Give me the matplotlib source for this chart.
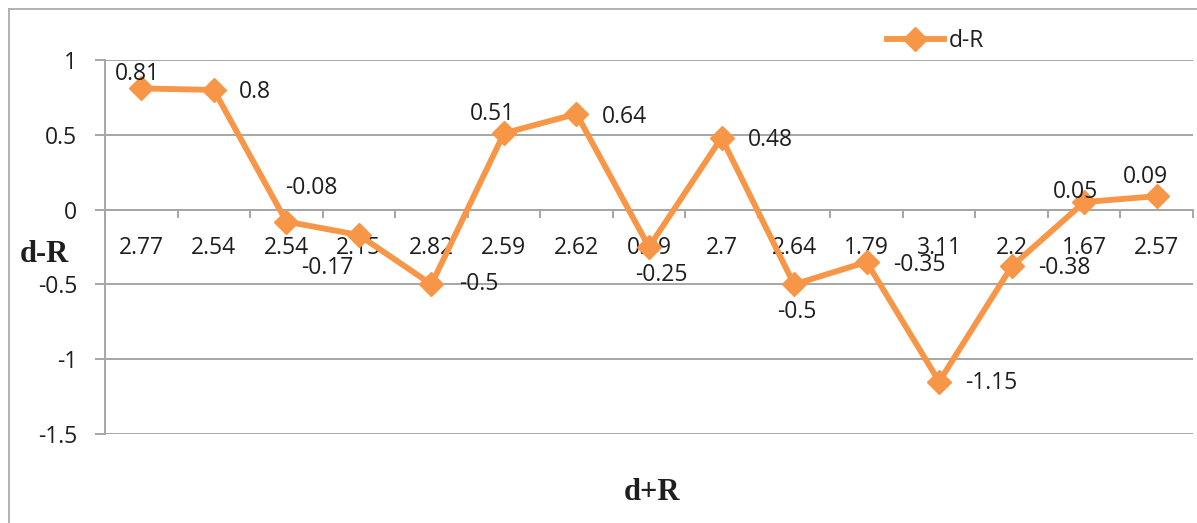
import matplotlib
matplotlib.use("Agg")
import matplotlib.pyplot as plt
from matplotlib.lines import Line2D

# category labels (d+R) and values (d-R)
categories = ["2.77", "2.54", "2.54", "2.15", "2.82", "2.59", "2.62", "0.99",
              "2.7", "2.64", "1.79", "3.11", "2.2", "1.67", "2.57"]
values = [0.81, 0.8, -0.08, -0.17, -0.5, 0.51, 0.64, -0.25,
          0.48, -0.5, -0.35, -1.15, -0.38, 0.05, 0.09]
# where each data label sits relative to its point, in pixels
label_offsets = [(-4, 14), (41, -2), (25, 34), (-32, -33), (47, 0),
                 (-11, 19), (48, -3), (12, -28), (49, -2), (3, -28),
                 (53, -3), (52, -1), (53, -2), (-9, 10), (-11, 19)]

orange = "#F79646"
grid = "#A6A6A6"
txt = "#1E1E1E"
font = "Open Sans"
fs = 16.5

W, H = 1197, 523
fig = plt.figure(figsize=(W / 100, H / 100), dpi=100)
ax = fig.add_axes([105 / W, (H - 434) / H, (1193 - 105) / W, (434 - 60) / H])

x = list(range(len(values)))
ax.plot(x, values, color=orange, lw=4.2, marker="D", ms=12,
        solid_joinstyle="round", label="d-R", zorder=3)

for i, (v, off) in enumerate(zip(values, label_offsets)):
    ax.annotate(f"{v:g}", (i, v), xytext=off, textcoords="offset pixels",
                ha="center", va="center", fontsize=fs, family=font,
                color=txt, zorder=4)

ax.set_xlim(-0.5, len(values) - 0.5)
ax.set_ylim(-1.5, 1)
yt = [-1.5, -1, -0.5, 0, 0.5, 1]
ax.set_yticks(yt)
ax.set_yticklabels([f"{t:g}" for t in yt], family=font, fontsize=fs, color=txt)
for t in yt:
    ax.axhline(t, color=grid, lw=1.4, zorder=1)

# horizontal axis crosses at zero, ticks between categories
for s in ["top", "right"]:
    ax.spines[s].set_visible(False)
ax.spines["bottom"].set_position(("data", 0))
ax.spines["bottom"].set_color(grid)
ax.spines["bottom"].set_linewidth(1.4)
ax.spines["left"].set_color(grid)
ax.spines["left"].set_linewidth(1.4)
ax.set_xticks([i - 0.5 for i in range(len(values) + 1)], minor=True)
ax.set_xticks(x)
ax.set_xticklabels(categories, family=font, fontsize=fs, color=txt)
ax.tick_params(axis="x", which="major", length=0, pad=19)
ax.tick_params(axis="x", which="minor", length=6, width=1.4, color=grid, direction="out")
ax.tick_params(axis="y", length=7, width=1.4, color=grid, pad=13)

fig.text(44 / W, 1 - 255 / H, "d-R", family="Liberation Serif", weight="bold",
         fontsize=22, color=txt, ha="center", va="center")
fig.text(652 / W, 1 - 493 / H, "d+R", family="Liberation Serif", weight="bold",
         fontsize=22, color=txt, ha="center", va="center")

ax.legend(loc="center left", bbox_to_anchor=(866 / W, 1 - 41 / H),
          bbox_transform=fig.transFigure, frameon=False, handlelength=2.5,
          handletextpad=0.2, prop={"family": font, "size": fs}, labelcolor=txt)

# chart area border (left and top visible)
fig.add_artist(Line2D([9 / W, 9 / W], [0, 1 - 9 / H], transform=fig.transFigure,
                      color=grid, lw=1.2))
fig.add_artist(Line2D([9 / W, 1], [1 - 9 / H, 1 - 9 / H], transform=fig.transFigure,
                      color=grid, lw=1.2))

fig.savefig("out.png", dpi=100)
